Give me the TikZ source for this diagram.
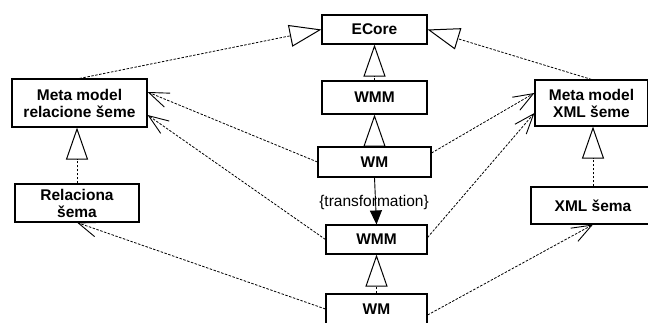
\documentclass[tikz,border=0pt]{standalone}
\usepackage{fontspec}
\setmainfont{Liberation Sans}
\usetikzlibrary{arrows.meta,calc}
\begin{document}
\begin{tikzpicture}[x=1pt,y=-1pt,
  box/.style={draw, line width=1.1pt, inner sep=0pt, align=center,
    font=\fontsize{15.5}{17}\selectfont\bfseries},
  gen/.style={dash pattern=on 2.5pt off 1.5pt, line width=0.8pt,
    -{Triangle[open, length=32pt, width=22pt, line width=1pt]}},
  dep/.style={dash pattern=on 2.5pt off 1.5pt, line width=0.8pt,
    -{Straight Barb[length=20pt, width=15pt, line width=0.9pt]}},
  trans/.style={line width=0.9pt, -{Triangle[length=14pt, width=12pt]}}]
\useasboundingbox (0,0) rectangle (648,323);

\node[box, minimum width=105pt, minimum height=29pt] (ecore) at (374.5,29.5) {ECore};
\node[box, minimum width=105pt, minimum height=33pt] (wmmA) at (374.5,97.5) {WMM};
\node[box, minimum width=113pt, minimum height=30pt] (wmA) at (374.5,162) {WM};
\node[box, minimum width=101pt, minimum height=29pt] (wmmB) at (376.5,239.5) {WMM};
\node[box, minimum width=101pt, minimum height=30pt] (wmB) at (376.5,309) {WM};
\node[box, minimum width=135pt, minimum height=48pt] (metarel) at (79.5,103) {Meta model\\relacione šeme};
\node[box, minimum width=124pt, minimum height=38pt] (rel) at (77,203) {Relaciona\\šema};
\node[box, minimum width=113pt, minimum height=46pt] (metaxml) at (591.5,103) {Meta model\\XML šeme};
\node[box, minimum width=124pt, minimum height=37pt] (xml) at (593,205.5) {XML šema};

% generalizations
\draw[gen] (metarel.north) -- (ecore.west);
\draw[gen] (metaxml.north) -- (ecore.east);
\draw[gen] (wmmA.north) -- (ecore.south);
\draw[gen] (wmA.north) -- (wmmA.south);
\draw[gen] (wmB.north) -- (wmmB.south);
\draw[gen] (rel.north) -- (rel.north |- metarel.south);
\draw[gen] (xml.north) -- (xml.north |- metaxml.south);

% transformation
\draw[trans] (wmA.south) -- (wmmB.north);
\node[font=\fontsize{15.5}{17}\selectfont, inner sep=0pt] (tlabel) at (374,202) {\{transformation\}};

% dependencies
\draw[dep] (wmA.west) -- ([yshift=11pt]metarel.east);
\draw[dep] (wmmB.west) -- ([yshift=-12pt]metarel.east);
\draw[dep] ([yshift=9pt]wmA.east) -- ([yshift=10pt]metaxml.west);
\draw[dep] ([yshift=2pt]wmmB.east) -- ([yshift=-10pt]metaxml.west);
\draw[dep] (wmB.west) -- (rel.south);
\draw[dep] ([yshift=-6pt]wmB.east) -- (xml.south);
\end{tikzpicture}
\end{document}
